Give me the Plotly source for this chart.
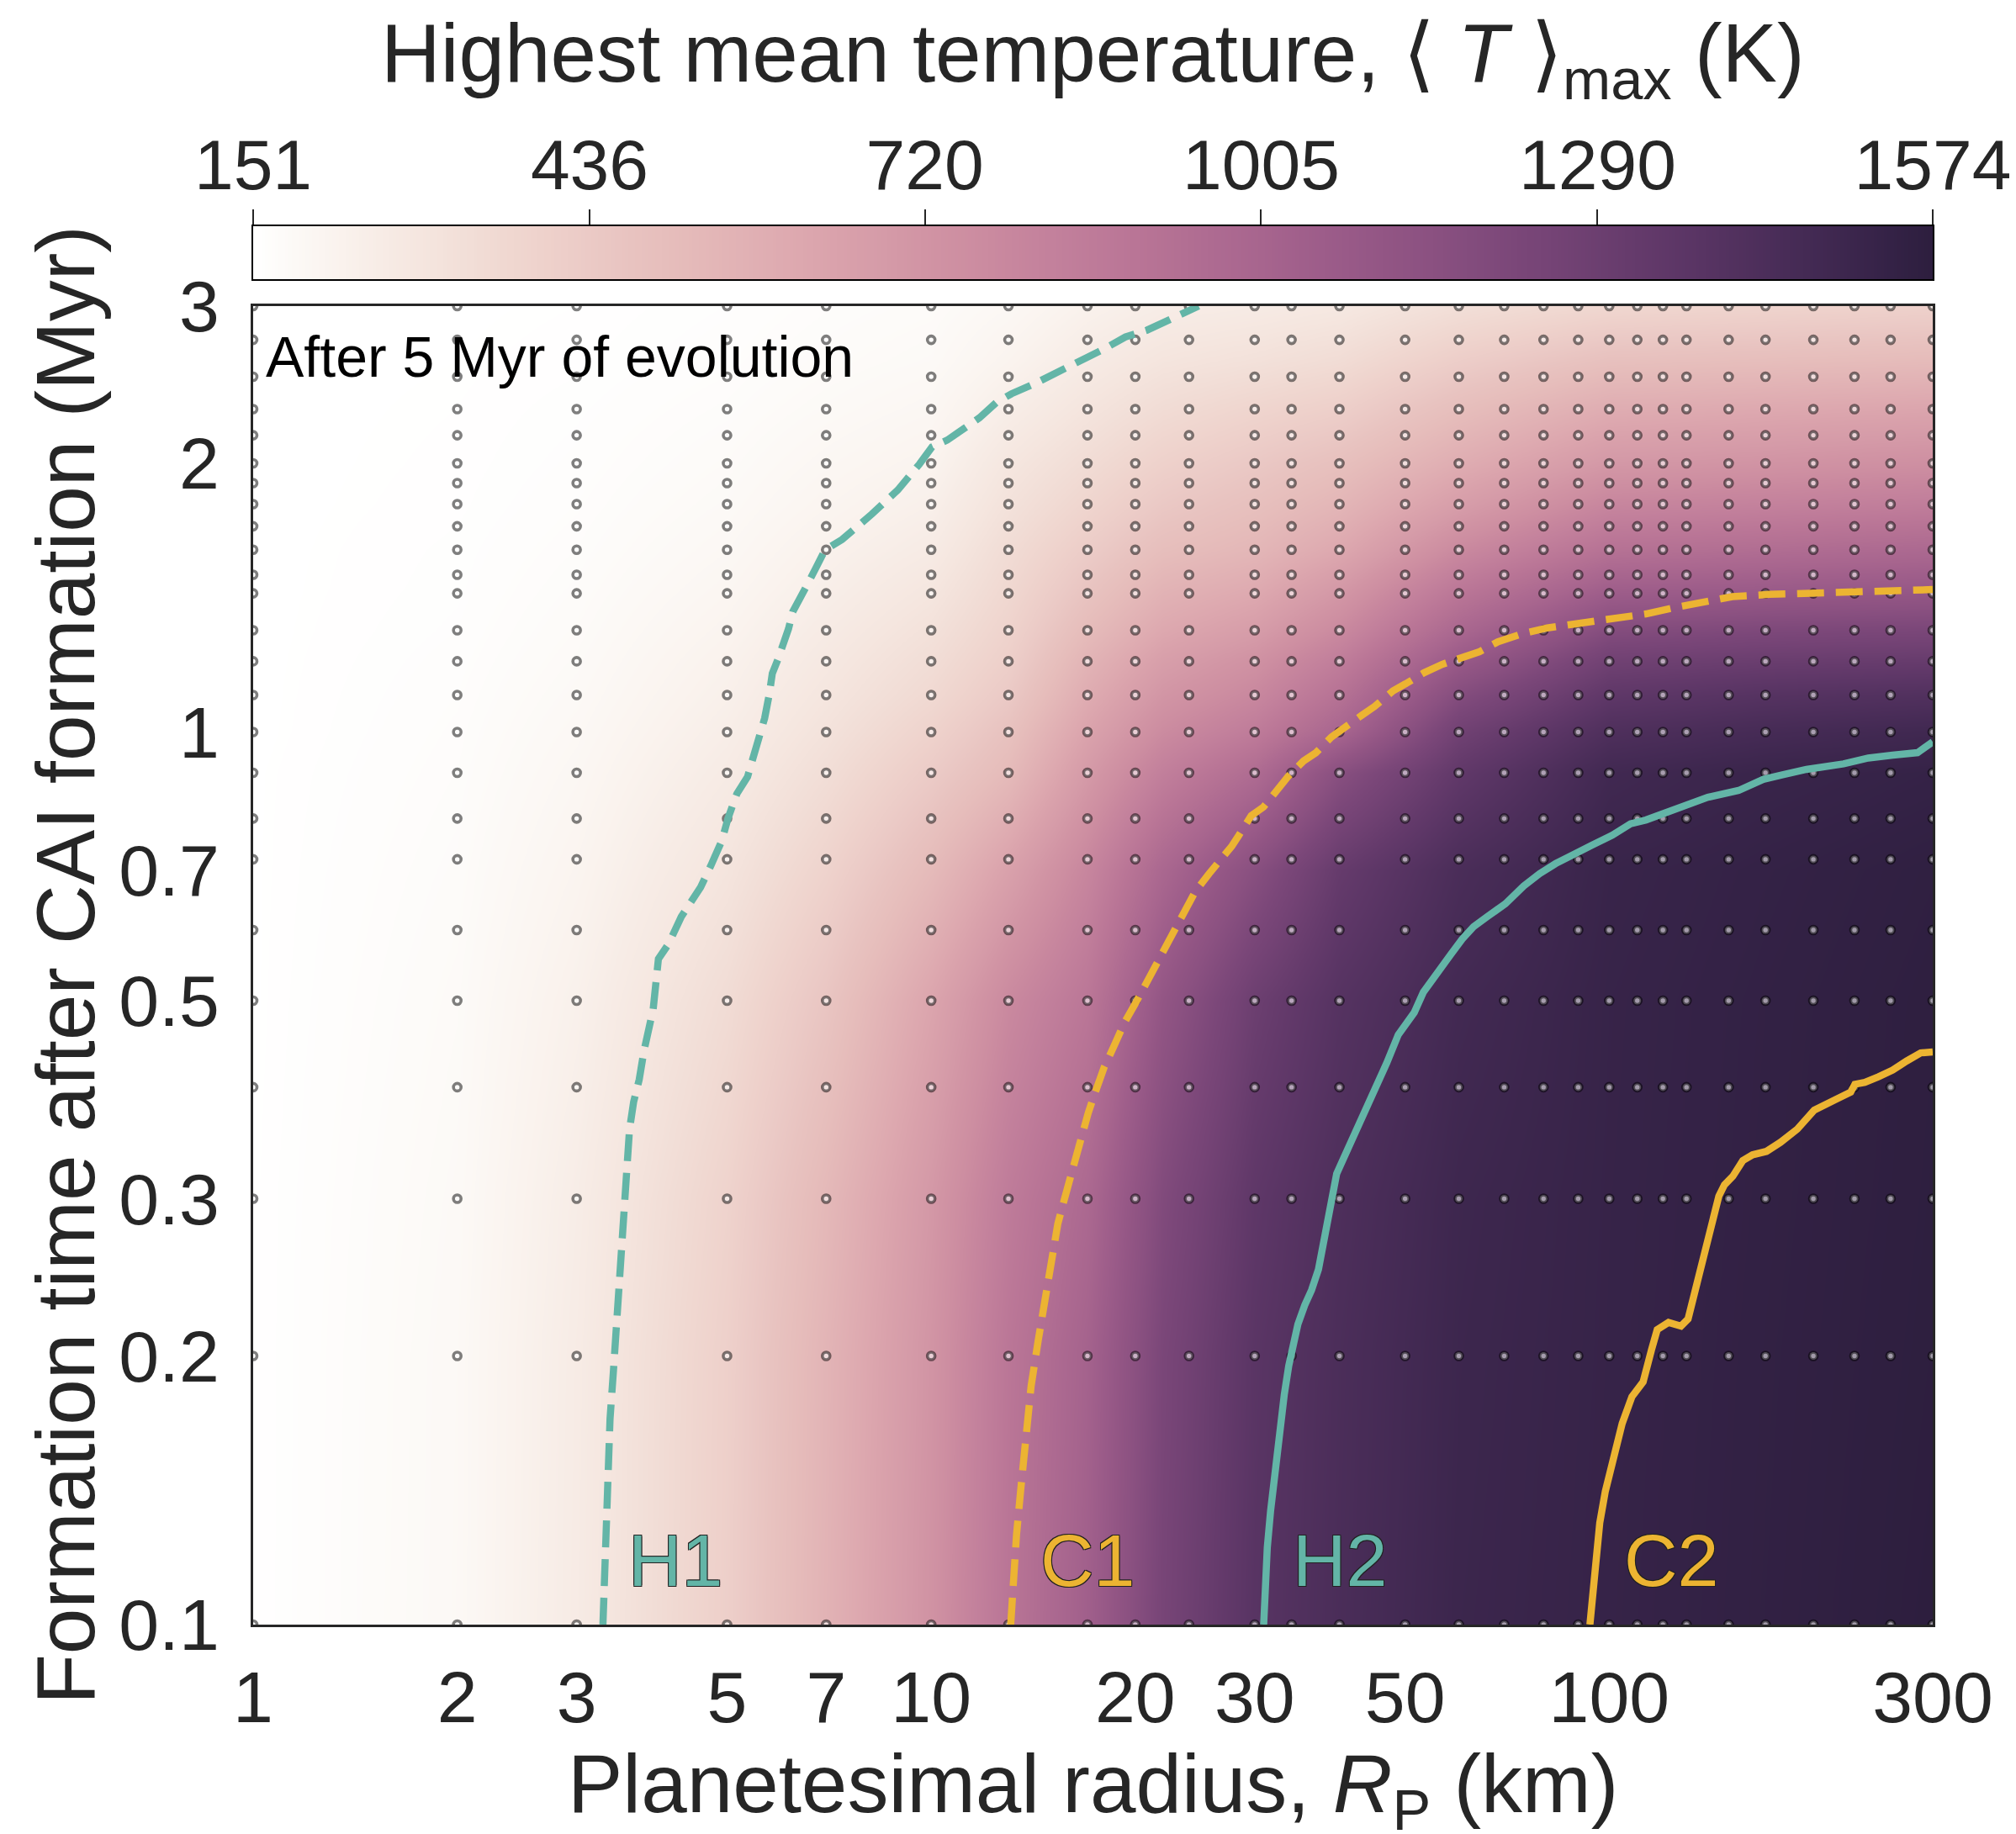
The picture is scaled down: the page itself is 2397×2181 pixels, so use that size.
import numpy as np
import plotly.graph_objects as go

# ---------------- data ----------------
# heat-map grid: planetesimal radius (km) x formation time (Myr)
R_grid = [1, 2, 3, 5, 7, 10, 13, 17, 22, 30, 40, 60, 100, 170, 300]
t_grid = [0.1, 0.2, 0.3, 0.5, 0.7, 0.9, 1.0, 1.1, 1.2, 1.3, 1.45, 1.6, 1.8, 2.0, 2.3, 2.6, 3.0]
# highest mean temperature (K), one row per formation time
T_max = [
    [153, 190, 265, 410, 560, 730, 900, 1040, 1240, 1380, 1440, 1505, 1530, 1552, 1574],
    [153, 189, 262, 405, 552, 720, 890, 1020, 1225, 1370, 1435, 1500, 1528, 1550, 1570],
    [153, 186, 255, 390, 530, 700, 860, 980, 1195, 1350, 1425, 1495, 1527, 1548, 1568],
    [152, 180, 235, 345, 460, 630, 780, 890, 1110, 1290, 1390, 1475, 1525, 1546, 1566],
    [152, 174, 215, 300, 390, 520, 650, 800, 990, 1160, 1320, 1440, 1518, 1540, 1560],
    [152, 169, 200, 265, 335, 430, 520, 690, 840, 960, 1160, 1340, 1480, 1515, 1535],
    [151, 167, 193, 250, 312, 392, 480, 640, 770, 860, 1000, 1270, 1420, 1460, 1485],
    [151, 165, 187, 238, 294, 360, 440, 595, 715, 790, 920, 1180, 1350, 1390, 1410],
    [151, 163, 182, 228, 279, 338, 410, 555, 665, 735, 850, 1080, 1270, 1300, 1315],
    [151, 161, 178, 218, 265, 318, 390, 515, 615, 675, 780, 990, 1180, 1210, 1225],
    [151, 159, 173, 205, 245, 290, 365, 465, 555, 600, 695, 880, 1040, 1065, 1085],
    [151, 158, 169, 195, 230, 265, 345, 425, 500, 540, 615, 780, 920, 950, 980],
    [151, 156, 165, 185, 212, 240, 315, 380, 445, 490, 545, 670, 800, 825, 850],
    [151, 155, 162, 178, 200, 220, 290, 345, 400, 445, 490, 590, 700, 725, 750],
    [151, 154, 159, 170, 185, 200, 250, 300, 345, 380, 410, 500, 590, 610, 630],
    [151, 153, 156, 164, 175, 185, 220, 265, 300, 320, 345, 420, 490, 505, 520],
    [151, 152, 154, 160, 168, 175, 195, 230, 255, 265, 280, 330, 370, 385, 400],
]
T_min, T_top = 151, 1574
cbar_ticks = [151, 436, 720, 1005, 1290, 1574]

# simulated models (grid of sample points)
R_models = [1, 2, 3, 5, 7, 10, 13, 17, 20, 24, 30, 34, 40, 50, 60, 70, 80, 90, 100,
            110, 120, 130, 150, 170, 200, 230, 260, 300]
t_models = [0.1, 0.2, 0.3, 0.4, 0.5, 0.6, 0.72, 0.8, 0.9, 1.0, 1.1, 1.2, 1.3, 1.43,
            1.5, 1.6, 1.7, 1.8, 1.9, 2.0, 2.15, 2.3, 2.5, 2.75, 3.0]

# boundary curves
H1_R = [3.28, 3.36, 3.40, 3.44, 3.47, 3.51, 3.54, 3.56, 3.59, 3.64, 3.71, 3.77, 3.84, 3.89,
        3.96, 4.10, 4.28, 4.57, 4.73, 4.91, 5.02, 5.17, 5.36, 5.48, 5.60, 5.68, 5.77, 5.83,
        5.94, 6.07, 6.16, 6.25, 6.43, 6.57, 6.77, 6.97, 7.39, 7.83, 8.18, 8.55, 8.93, 9.61,
        10.03, 10.56, 11.11, 11.78, 12.49, 13.14, 14.23, 15.54, 16.96, 17.97, 19.34, 20.80,
        22.70, 24.41, 24.8]
H1_t = [0.100, 0.170, 0.193, 0.219, 0.244, 0.274, 0.304, 0.331, 0.359, 0.385, 0.408, 0.439,
        0.469, 0.489, 0.557, 0.579, 0.621, 0.670, 0.708, 0.755, 0.802, 0.853, 0.891, 0.940,
        0.991, 1.036, 1.102, 1.163, 1.205, 1.259, 1.305, 1.364, 1.413, 1.464, 1.530, 1.599,
        1.643, 1.702, 1.755, 1.811, 1.867, 1.996, 2.086, 2.123, 2.180, 2.249, 2.341, 2.393,
        2.457, 2.546, 2.627, 2.685, 2.770, 2.819, 2.907, 2.979, 3.0]

C1_R = [13.10, 13.20, 13.36, 13.57, 13.79, 14.04, 14.38, 14.60, 14.83, 15.06, 15.37, 15.65,
        15.94, 16.27, 16.65, 17.04, 17.44, 17.99, 18.56, 19.29, 20.05, 21.01, 22.01, 23.23,
        24.53, 25.70, 26.71, 27.76, 28.43, 29.65, 30.91, 32.24, 33.62, 35.42, 36.94, 38.93,
        40.60, 43.22, 45.06, 48.00, 50.04, 53.30, 56.75, 60.43, 64.36, 68.53, 74.52, 81.04,
        90.03, 102.0, 113.3, 125.9, 139.8, 151.9, 172.3, 212.5, 261.9, 300]
C1_t = [0.100, 0.110, 0.126, 0.143, 0.163, 0.185, 0.208, 0.222, 0.240, 0.260, 0.281, 0.296,
        0.312, 0.328, 0.351, 0.374, 0.394, 0.421, 0.443, 0.473, 0.498, 0.532, 0.567, 0.613,
        0.663, 0.694, 0.717, 0.745, 0.766, 0.806, 0.824, 0.860, 0.892, 0.928, 0.948, 0.987,
        1.008, 1.045, 1.068, 1.112, 1.132, 1.165, 1.191, 1.212, 1.230, 1.262, 1.289, 1.308,
        1.322, 1.341, 1.356, 1.380, 1.401, 1.418, 1.426, 1.435, 1.442, 1.444]

H2_R = [30.93, 31.03, 31.31, 31.66, 32.00, 32.41, 32.81, 33.17, 33.68, 34.05, 34.74, 35.56,
        36.39, 37.25, 37.84, 38.43, 39.03, 39.63, 40.57, 42.17, 43.84, 45.57, 46.99, 48.85,
        50.00, 51.58, 53.19, 55.72, 58.36, 60.67, 63.06, 66.07, 70.29, 74.78, 78.95, 83.34,
        88.66, 94.34, 101.0, 107.5, 113.3, 120.7, 129.8, 139.8, 155.2, 168.7, 179.6, 195.4,
        221.6, 241.0, 261.9, 284.9, 300]
H2_t = [0.100, 0.110, 0.122, 0.134, 0.145, 0.155, 0.167, 0.181, 0.195, 0.203, 0.217, 0.228,
        0.237, 0.250, 0.267, 0.288, 0.304, 0.320, 0.333, 0.355, 0.379, 0.405, 0.426, 0.458,
        0.470, 0.485, 0.511, 0.538, 0.563, 0.586, 0.605, 0.621, 0.642, 0.672, 0.694, 0.712,
        0.731, 0.747, 0.766, 0.789, 0.797, 0.812, 0.827, 0.845, 0.860, 0.885, 0.895, 0.908,
        0.921, 0.935, 0.942, 0.948, 0.975]

C2_R = [93.65, 94.52, 95.45, 96.83, 98.67, 101.1, 104.5, 108.0, 112.2, 115.4, 117.7, 122.3,
        127.6, 130.7, 134.5, 138.4, 142.4, 145.1, 147.9, 152.2, 157.4, 162.7, 170.6, 178.9,
        189.4, 200.6, 216.4, 227.0, 230.3, 238.2, 249.7, 261.8, 274.6, 288.0, 300]
C2_t = [0.100, 0.108, 0.119, 0.130, 0.141, 0.153, 0.168, 0.180, 0.187, 0.203, 0.214, 0.218,
        0.216, 0.220, 0.239, 0.262, 0.284, 0.302, 0.311, 0.318, 0.331, 0.336, 0.339, 0.347,
        0.359, 0.377, 0.388, 0.395, 0.403, 0.405, 0.411, 0.418, 0.428, 0.437, 0.438]

labels = [("H1", 3.55), ("C1", 14.4), ("H2", 33.9), ("C2", 104.5)]
label_t = 0.118

x_ticks = [1, 2, 3, 5, 7, 10, 20, 30, 50, 100, 300]
y_ticks = [0.1, 0.2, 0.3, 0.5, 0.7, 1, 2, 3]

# ---------------- style ----------------
FONT = "Liberation Sans, Arial, Helvetica, sans-serif"
INK = "#262626"
TEAL = "#63B5A7"
GOLD = "#ECB432"


def cubehelix(v, start=0.0, rot=0.4, gamma=1.0, hue=0.8):
    vg = v ** gamma
    a = hue * vg * (1 - vg) / 2
    phi = 2 * np.pi * (start / 3 + rot * v)
    r = vg + a * (-0.14861 * np.cos(phi) + 1.78277 * np.sin(phi))
    g = vg + a * (-0.29227 * np.cos(phi) - 0.90649 * np.sin(phi))
    b = vg + a * (1.97294 * np.cos(phi))
    c = np.clip([r, g, b], 0, 1)
    return "rgb(%d,%d,%d)" % tuple(int(round(255 * k)) for k in c)


light, dark = 1.0, 0.15
stops = np.linspace(0, 1, 41)
colorscale = [[float(s), cubehelix(light + (dark - light) * s)] for s in stops]

# ---------------- geometry (pixels) ----------------
W, H = 2397, 2181
ML, MR, MT, MB = 301, 99, 20, 249
PH = H - MT - MB                      # paper height in px
PLOT_TOP, PLOT_BOT = 364, 1932        # main plot area
CB_TOP, CB_BOT = 269, 332             # colour bar


def py(px):                           # pixel row -> paper y
    return (PLOT_BOT - px) / PH


def pxx(px):                          # pixel column -> paper x
    return (px - ML) / (W - ML - MR)


fig = go.Figure()

fig.add_trace(go.Heatmap(
    x=R_grid, y=t_grid, z=T_max, xaxis="x", yaxis="y",
    zmin=T_min, zmax=T_top, zsmooth="best",
    colorscale=colorscale, hoverinfo="skip", showscale=False,
))

mx = [r for t in t_models for r in R_models]
my = [t for t in t_models for r in R_models]
fig.add_trace(go.Scatter(
    x=mx, y=my, mode="markers", hoverinfo="skip", showlegend=False,
    marker=dict(symbol="circle", size=9, color="rgba(255,255,255,0.55)",
                line=dict(color="rgba(0,0,0,0.5)", width=3.6)),
))

for Rs, ts, col, dash in [(H1_R, H1_t, TEAL, "32px,14px"), (C1_R, C1_t, GOLD, "32px,14px"),
                          (H2_R, H2_t, TEAL, "solid"), (C2_R, C2_t, GOLD, "solid")]:
    fig.add_trace(go.Scatter(x=Rs, y=ts, mode="lines", hoverinfo="skip", showlegend=False,
                             line=dict(color=col, width=8.5, dash=dash)))

# colour key drawn as its own strip
cb_vals = np.linspace(T_min, T_top, 500)
fig.add_trace(go.Heatmap(
    x=cb_vals, y=[0], z=[cb_vals], xaxis="x2", yaxis="y2",
    zmin=T_min, zmax=T_top, colorscale=colorscale, showscale=False, hoverinfo="skip",
))

shadow = "1px 1px 0 #222, -1px -1px 0 #222, 1px -1px 0 #222, -1px 1px 0 #222"
for (txt, rx), col in zip(labels, [TEAL, GOLD, TEAL, GOLD]):
    fig.add_annotation(x=np.log10(rx), y=np.log10(label_t), xref="x", yref="y", text=txt,
                       showarrow=False, xanchor="left", yanchor="middle",
                       font=dict(family=FONT, size=88, color=col, shadow=shadow))

fig.add_annotation(x=pxx(314), y=py(424), xref="paper", yref="paper",
                   text="After 5 Myr of evolution", showarrow=False,
                   xanchor="left", yanchor="middle",
                   font=dict(family=FONT, size=68, color="black"))

# titles
fig.add_annotation(x=0.5, y=py(2128), xref="paper", yref="paper",
                   text="Planetesimal radius, <i>R</i><sub>P</sub> (km)", showarrow=False,
                   xanchor="center", yanchor="middle",
                   font=dict(family=FONT, size=98, color=INK))
fig.add_annotation(x=pxx(78), y=py((PLOT_TOP + PLOT_BOT) / 2), xref="paper", yref="paper",
                   text="Formation time after CAI formation (Myr)", showarrow=False,
                   textangle=-90, xanchor="center", yanchor="middle",
                   font=dict(family=FONT, size=98, color=INK))
fig.add_annotation(x=0.5, y=py(70), xref="paper", yref="paper",
                   text="Highest mean temperature, ⟨ <i>T</i> ⟩<sub>max</sub> (K)",
                   showarrow=False, xanchor="center", yanchor="middle",
                   font=dict(family=FONT, size=98, color=INK))

axis_common = dict(showgrid=False, zeroline=False, showline=True, mirror=True,
                   linecolor=INK, linewidth=3, ticks="",
                   tickfont=dict(family=FONT, size=86, color=INK))

fig.update_layout(
    xaxis=dict(type="log", range=[0, np.log10(300)], tickvals=x_ticks,
               ticktext=[str(v) for v in x_ticks], ticklabelstandoff=10,
               anchor="y", domain=[0, 1], **axis_common),
    yaxis=dict(type="log", range=[-1, np.log10(3)], tickvals=y_ticks,
               ticktext=[str(v) for v in y_ticks], ticklabelstandoff=20,
               anchor="x", domain=[0, py(PLOT_TOP)], **axis_common),
    xaxis2=dict(range=[T_min, T_top], side="top", anchor="y2", domain=[0, 1],
                tickvals=cbar_ticks, ticktext=[str(v) for v in cbar_ticks],
                ticks="outside", ticklen=18, tickwidth=2, tickcolor=INK,
                showline=True, mirror=True, linecolor="black", linewidth=2,
                showgrid=False, zeroline=False, ticklabelstandoff=-10,
                tickfont=dict(family=FONT, size=84, color=INK)),
    yaxis2=dict(range=[-0.5, 0.5], anchor="x2", domain=[py(CB_BOT), py(CB_TOP)],
                showticklabels=False, ticks="", showline=True, mirror=True,
                linecolor="black", linewidth=2, showgrid=False, zeroline=False),
    width=W, height=H, margin=dict(l=ML, r=MR, t=MT, b=MB, autoexpand=False),
    paper_bgcolor="white", plot_bgcolor="white", showlegend=False,
    font=dict(family=FONT, color=INK),
)

fig.write_html("out.html")
